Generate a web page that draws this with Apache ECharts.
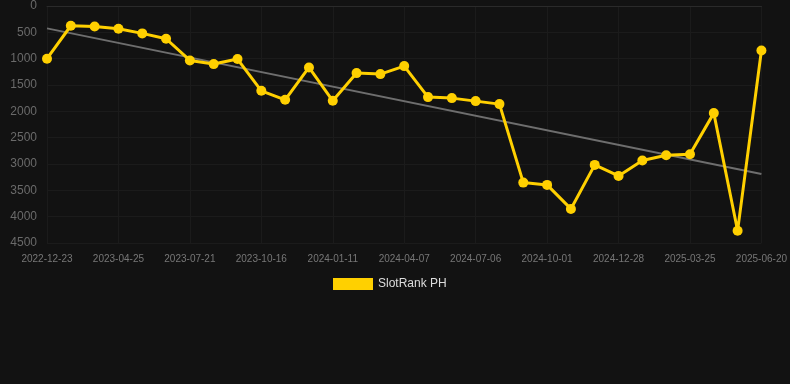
<!DOCTYPE html>
<html>
<head>
<meta charset="utf-8">
<script src="https://cdn.jsdelivr.net/npm/echarts@6/dist/echarts.min.js"></script>
<style>
html,body{margin:0;padding:0;background:#121212;}
#c{width:790px;height:384px;}
</style>
</head>
<body>
<div id="c"></div>
<script>
var categories = ['2022-12-23','2023-01-29','2023-03-27','2023-04-25','2023-05-24','2023-06-22','2023-07-21','2023-08-19','2023-09-17','2023-10-16','2023-11-14','2023-12-13','2024-01-11','2024-02-09','2024-03-09','2024-04-07','2024-05-06','2024-06-06','2024-07-06','2024-08-04','2024-09-02','2024-10-01','2024-10-30','2024-11-28','2024-12-28','2025-01-26','2025-02-24','2025-03-25','2025-04-23','2025-05-22','2025-06-20'];
var rankValues = [1000,375,390,432,520,622,1034,1103,1008,1610,1781,1167,1800,1274,1293,1141,1730,1749,1806,1863,3353,3397,3853,3017,3226,2935,2833,2814,2034,4266,844];
var trendStartEnd = [425,3190];
var seriesName = 'SlotRank PH';

var chart = echarts.init(document.getElementById('c'));
chart.setOption({
  backgroundColor:'#121212',
  animation:false,
  textStyle:{fontFamily:'Liberation Sans, Arial, sans-serif'},
  grid:{left:47,right:28,top:6,bottom:141},
  legend:{
    data:[seriesName],
    top:273,
    left:328,
    icon:'rect',
    itemWidth:40,
    itemHeight:12,
    itemGap:10,
    textStyle:{color:'#dddddd',fontSize:12}
  },
  xAxis:{
    type:'category',
    data:categories,
    boundaryGap:false,
    axisLine:{show:true,lineStyle:{color:'#2a2a2a'}},
    axisTick:{show:false},
    axisLabel:{interval:2,color:'#777777',fontSize:10,margin:11},
    splitLine:{show:true,interval:2,lineStyle:{color:'#1b1b1b'}}
  },
  yAxis:{
    type:'value',
    inverse:true,
    min:0,max:4500,interval:500,
    axisLine:{show:false},
    axisTick:{show:false},
    axisLabel:{color:'#6a6a6a',fontSize:12,margin:10,formatter:function(v){return String(v);}},
    splitLine:{show:true,lineStyle:{color:'#1b1b1b'}}
  },
  series:[
    {
      name:'trend',
      type:'line',
      data:[[categories[0],trendStartEnd[0]],[categories[categories.length-1],trendStartEnd[1]]],
      symbol:'none',
      lineStyle:{color:'#6e6e6e',width:2},
      silent:true,
      z:1
    },
    {
      name:seriesName,
      type:'line',
      data:rankValues,
      symbol:'circle',
      symbolSize:10,
      itemStyle:{color:'#ffd000'},
      lineStyle:{color:'#ffd000',width:3},
      z:2
    }
  ]
});
</script>
</body>
</html>
